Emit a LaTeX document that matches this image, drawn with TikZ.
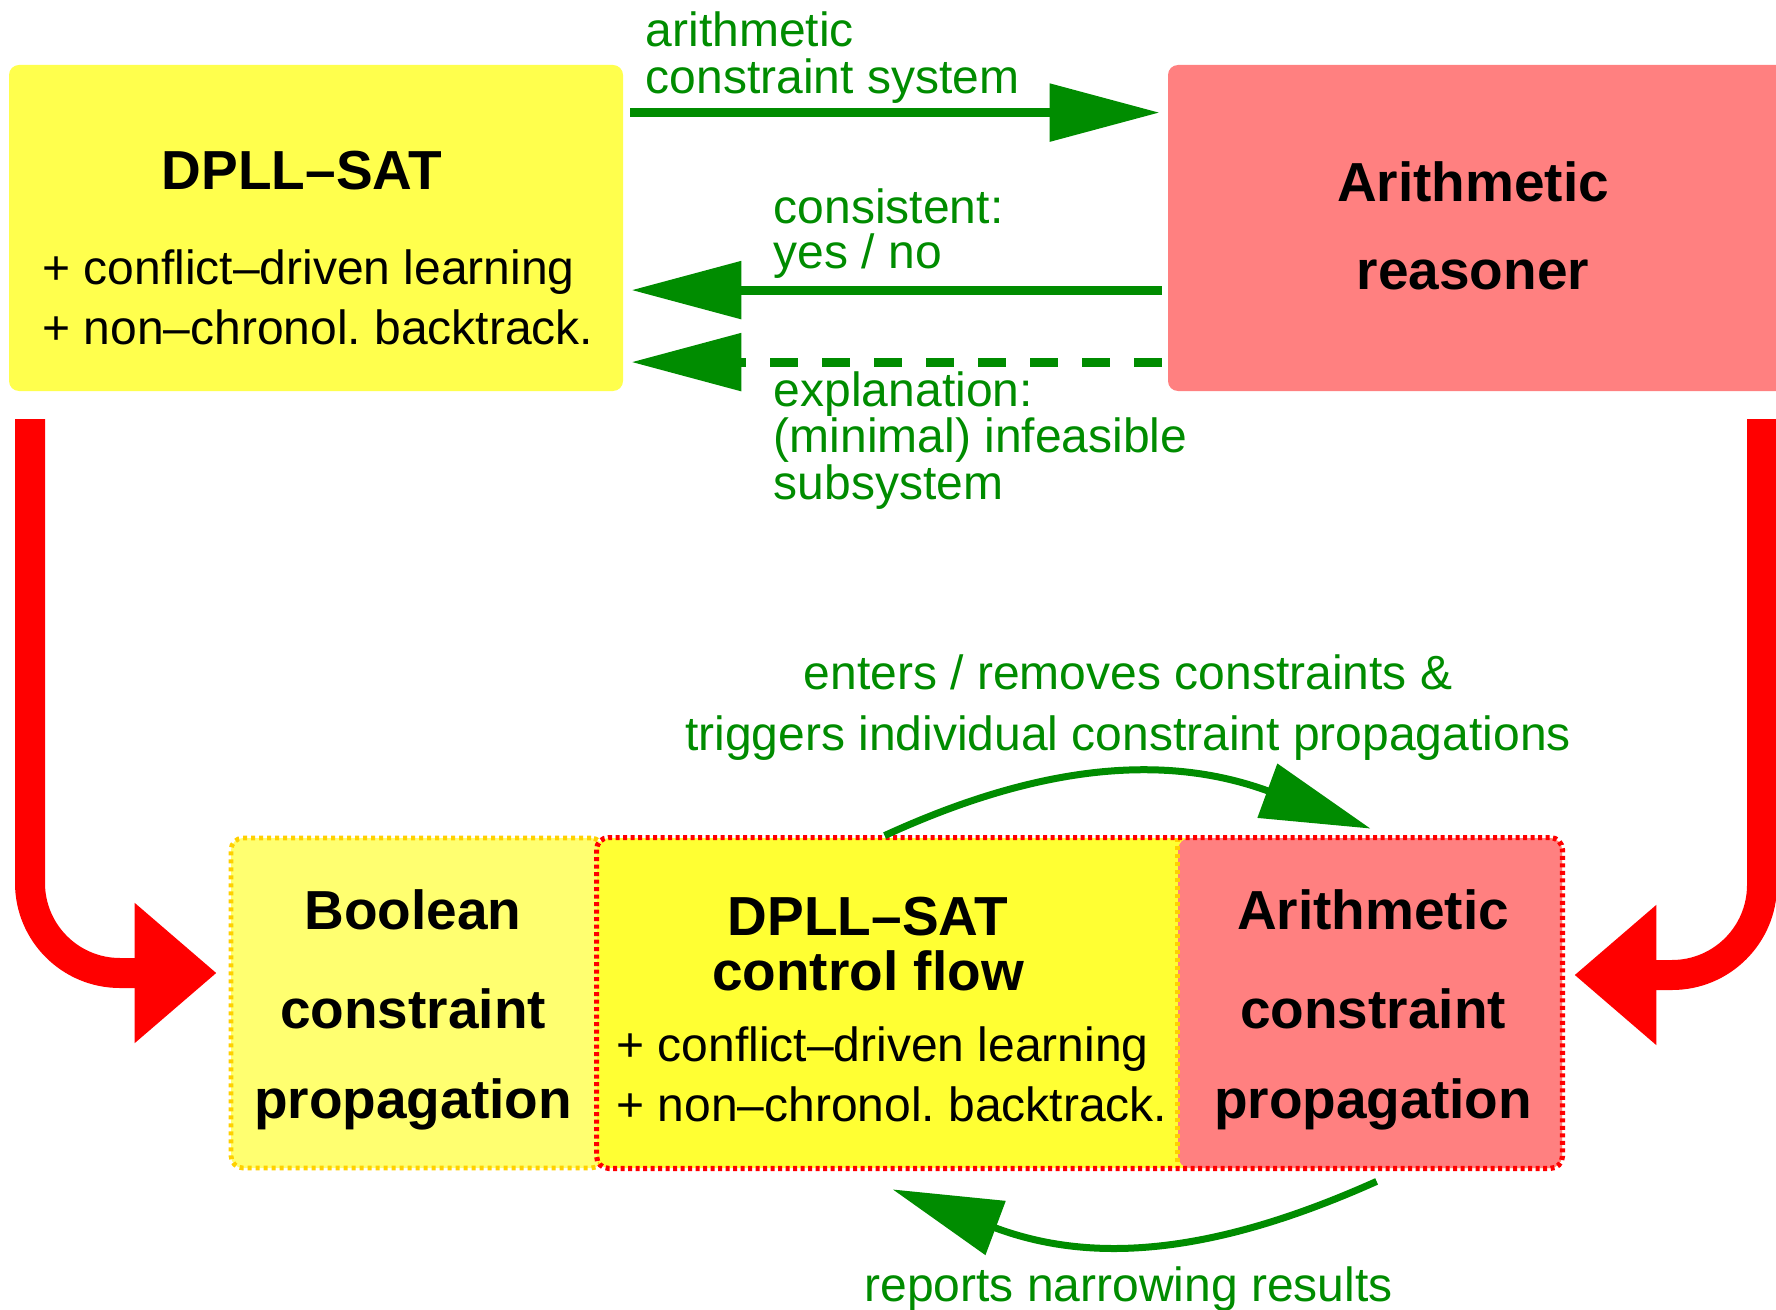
\documentclass[tikz,border=0pt]{standalone}
\usepackage{fontspec}
\setmainfont{Liberation Sans}
\usetikzlibrary{arrows.meta}
\frenchspacing

\definecolor{topyellow}{RGB}{255,255,77}
\definecolor{boolyellow}{RGB}{255,255,112}
\definecolor{coreyellow}{RGB}{255,255,51}
\definecolor{pinkbox}{RGB}{255,128,128}
\definecolor{arrowgreen}{RGB}{0,140,0}
\definecolor{dotgold}{RGB}{255,208,0}

\tikzset{
  panel/.style={rectangle, inner sep=0pt, draw=none, rounded corners=5pt},
  plain/.style={inner sep=0pt, font=\fontsize{24}{30}\selectfont},
  heading/.style={inner sep=0pt, font=\fontsize{27.5}{27.5}\selectfont\bfseries},
  greentext/.style={inner sep=0pt, text=arrowgreen},
  flowarrow/.style={draw=arrowgreen, line width=4.5pt,
    -{Triangle[length=55pt,width=28pt]}},
  looparrow/.style={draw=arrowgreen, line width=3.5pt,
    -{Triangle[length=55pt,width=28pt]}},
  bigred/.style={draw=red, line width=15pt, rounded corners=45pt,
    -{Triangle[length=41pt,width=67.5pt]}},
  golddots/.style={draw=dotgold, line width=2.4pt, dash pattern=on 2pt off 2pt},
  reddots/.style={draw=red, line width=2.6pt, dash pattern=on 2pt off 1.75pt}
}

\begin{document}
\begin{tikzpicture}[x=0.5pt, y=-0.5pt]
  \useasboundingbox (0,0) rectangle (1776,1310);
  \fill[white] (0,0) rectangle (1776,1310);
  \clip (0,0) rectangle (1776,1310);

  % --- upper level: SAT solver and arithmetic reasoner ---
  % (multi-line nodes are anchored at the baseline of their last line)
  \node[panel, fill=topyellow, minimum width=307pt, minimum height=163pt] (dpll) at (316,228) {};
  \node[panel, fill=pinkbox, minimum width=316pt, minimum height=163pt] (reas) at (1484,228) {};

  \node[heading, anchor=base] (dpllT) at (302,190) {DPLL–SAT};
  \node[plain, anchor=base west, align=left] (dpllL) at (42,345)
    {+ conflict–driven learning\\+ non–chronol. backtrack.};
  \node[heading, anchor=base, align=center, font=\fontsize{27.5}{44.15}\selectfont\bfseries] (reasT) at (1473,290)
    {Arithmetic\\reasoner};

  % communication between the two components
  \draw[flowarrow] ([shift={(7,48)}]dpll.north east) -- ([shift={(-8,48)}]reas.north west);
  \draw[flowarrow] ([shift={(-6,225.5)}]reas.north west) -- ([shift={(8,225.5)}]dpll.north east);
  \draw[flowarrow, dash pattern=on 14pt off 12pt] ([shift={(-6,297.5)}]reas.north west) -- ([shift={(8,297.5)}]dpll.north east);

  \node[greentext, anchor=base west, align=left, font=\fontsize{24}{23.3}\selectfont] (labSys) at (645.5,93.3)
    {arithmetic\\constraint system};
  \node[greentext, anchor=base west, align=left, font=\fontsize{24}{22.5}\selectfont] (labCons) at (773.5,269)
    {consistent:\\yes / no};
  \node[greentext, anchor=base west, align=left, font=\fontsize{24}{23.25}\selectfont] (labExpl) at (773.5,499)
    {explanation:\\(minimal) infeasible\\subsystem};

  % --- lower level: integrated solver ---
  \node[panel, rounded corners=6pt, fill=boolyellow, golddots, minimum width=186pt, minimum height=165pt] (bool) at (417,1003) {};
  \node[panel, rounded corners=6pt, fill=coreyellow, minimum width=482.5pt, minimum height=165pt] (core) at (1079.5,1003) {};
  \node[panel, rounded corners=6pt, fill=pinkbox, minimum width=192pt, minimum height=165pt] (arp) at (1370,1003) {};
  \draw[golddots] (arp.north west) -- (arp.south west);
  \draw[reddots, rounded corners=6pt] (core.north west) rectangle (core.south east);

  \node[heading, anchor=base, align=center, font=\fontsize{27.5}{45}\selectfont\bfseries] (boolT) at (413,1118.3)
    {Boolean\\[4.5pt]constraint\\propagation};
  \node[heading, anchor=base, align=center, font=\fontsize{27.5}{45}\selectfont\bfseries] (arpT) at (1373,1118.3)
    {Arithmetic\\[4.5pt]constraint\\propagation};
  \node[heading, anchor=base, align=center] (coreT) at (868,990)
    {DPLL–SAT\\control flow};
  \node[plain, anchor=base west, align=left] (coreL) at (616,1121.7)
    {+ conflict–driven learning\\+ non–chronol. backtrack.};

  % interaction loop between control flow and arithmetic propagation
  \coordinate (loopTopStart) at ([shift={(288,-2)}]core.north west);
  \coordinate (loopTopEnd) at ([shift={(774,-9)}]core.north west);
  \coordinate (loopBotStart) at ([shift={(780,13)}]core.south west);
  \coordinate (loopBotEnd) at ([shift={(296,21)}]core.south west);
  \draw[looparrow] (loopTopStart) .. controls (1060,755) and (1181,759) .. (loopTopEnd);
  \draw[looparrow] (loopBotStart) .. controls (1197,1262) and (1081,1260) .. (loopBotEnd);

  \node[greentext, anchor=base, align=center, font=\fontsize{24}{30.5}\selectfont] (labTrig) at (1128,750)
    {enters / removes constraints \&\\triggers individual constraint propagations};
  \node[greentext, anchor=base, font=\fontsize{24}{30}\selectfont] (labRep) at (1128.5,1301.6)
    {reports narrowing results};

  % --- integration of the two upper components into the lower solver ---
  \coordinate (redL) at (30,419);
  \coordinate (redR) at (1762,419);
  \draw[bigred] (redL) |- ([shift={(-12,-30)}]bool.west);
  \draw[bigred] (redR) |- ([shift={(12,-28)}]core.east);
\end{tikzpicture}
\end{document}
